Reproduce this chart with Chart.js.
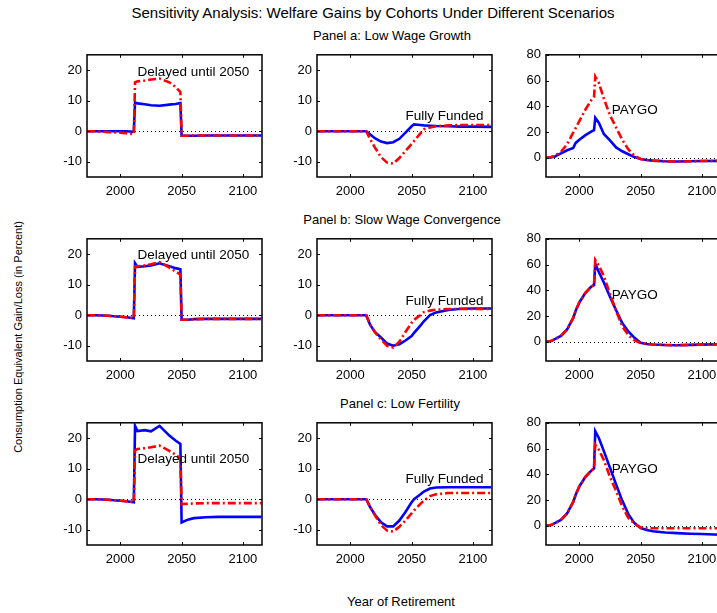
<!DOCTYPE html>
<html><head><meta charset="utf-8">
<script src="https://cdn.jsdelivr.net/npm/chart.js@4.4.1/dist/chart.umd.min.js"></script>
<style>
html,body{margin:0;padding:0;background:#fff;}
body{width:717px;height:613px;position:relative;overflow:hidden;font-family:"Liberation Sans",Arial,sans-serif;color:#000;}
canvas{position:absolute;}
.t{position:absolute;white-space:nowrap;transform:translate(-50%,-50%);line-height:1;}
</style></head><body>
<div class="t" style="left:373px;top:12px;font-size:15px">Sensitivity Analysis: Welfare Gains by Cohorts Under Different Scenarios</div>
<div class="t" id="pt0" style="left:392px;top:35px;font-size:13px"></div>
<div class="t" id="pt1" style="left:402px;top:219px;font-size:13px"></div>
<div class="t" id="pt2" style="left:400px;top:403px;font-size:13px"></div>
<div class="t" style="left:18px;top:337px;font-size:11px;transform:translate(-50%,-50%) rotate(-90deg)">Consumption Equivalent Gain/Loss (in Percent)</div>
<div class="t" style="left:401px;top:601px;font-size:13px">Year of Retirement</div>
<script>
// ---- DATA ----
const panelTitles = ["Panel a: Low Wage Growth", "Panel b: Slow Wage Convergence", "Panel c: Low Fertility"];
const schemeLabels = ["Delayed until 2050", "Fully Funded", "PAYGO"];
const xTickYears = [2000, 2050, 2100];
const yTicksSmall = [-10, 0, 10, 20];
const yTicksPaygo = [0, 20, 40, 60, 80];

// Delayed until 2050
const delayYears = [1973, 1980, 1990, 2000, 2005, 2011, 2012, 2014, 2020, 2025, 2032, 2040, 2045, 2049, 2050, 2055, 2060, 2070, 2080, 2100, 2115];
const delayBlueA = [0, 0, 0, 0, 0, -0.2, 9.4, 9.1, 8.8, 8.5, 8.3, 8.7, 8.9, 9.2, -1.5, -1.5, -1.5, -1.4, -1.4, -1.4, -1.4];
const delayRedA  = [0, 0, -0.3, -0.5, -0.7, -1, 16, 16.3, 16.6, 16.9, 17.2, 16, 14.5, 12.8, -1.5, -1.5, -1.4, -1.4, -1.4, -1.4, -1.4];
const delayBlueB = [0, 0, -0.2, -0.5, -0.7, -1, 17, 15.8, 16, 16.3, 17, 16, 15.4, 15, -1.5, -1.5, -1.3, -1.2, -1.2, -1.2, -1.2];
const delayRedB  = [0, 0, -0.2, -0.5, -0.7, -1, 16, 16, 16.3, 16.7, 17.4, 15.6, 14.3, 13.3, -1.5, -1.5, -1.3, -1.2, -1.2, -1.2, -1.2];
const delayBlueC = [0, 0, -0.2, -0.5, -0.7, -1, 24, 22.3, 22.6, 22.2, 24, 20.8, 19.2, 18.1, -7.6, -6.7, -6.2, -5.9, -5.8, -5.8, -5.8];
const delayRedC  = [0, 0, -0.2, -0.5, -0.7, -1, 16, 16.4, 16.7, 17, 17.5, 15.8, 14.6, 13.3, -1.6, -1.5, -1.4, -1.3, -1.3, -1.3, -1.3];

// Fully Funded
const ffYears   = [1973, 2000, 2013, 2016, 2020, 2025, 2030, 2035, 2040, 2045, 2050, 2052, 2057, 2060, 2065, 2070, 2080, 2090, 2100, 2115];
const ffBlueA   = [0, 0, 0, -1, -2.3, -3.4, -3.9, -3.6, -2.5, -0.5, 1.6, 2.2, 2.0, 1.9, 1.8, 1.7, 1.6, 1.5, 1.5, 1.4];
const ffRedA    = [0, 0, 0, -2.5, -5.3, -8.5, -10.3, -10.6, -8.8, -6.5, -4.2, -3.2, -0.8, 0.6, 1.2, 1.6, 1.9, 2, 2, 2];
const ffBlueB   = [0, 0, 0, -3, -5.5, -7.3, -9.3, -10, -9.5, -8.3, -6.8, -5.8, -3.5, -2, 0, 0.9, 1.7, 2.1, 2.2, 2.2];
const ffRedB    = [0, 0, 0, -3, -5.5, -8, -10, -10.6, -8.7, -5.5, -2.5, -1.5, 0, 1, 1.5, 1.8, 2, 2, 2, 2];
const ffBlueC   = [0, 0, 0, -2.5, -5, -7.6, -8.9, -8.9, -7, -4.2, -1, 0, 1.5, 2.5, 3.5, 3.8, 3.9, 3.9, 3.9, 3.9];
const ffRedC    = [0, 0, 0, -2.5, -5.2, -8.5, -10.3, -10.6, -9, -7, -4.6, -3.7, -1.6, -0.5, 1, 1.6, 2, 2, 2, 2];

// PAYGO
const pgYears = [1973, 1977, 1980, 1985, 1990, 1995, 1997, 2000, 2005, 2010, 2012, 2013, 2016, 2020, 2025, 2030, 2035, 2040, 2045, 2050, 2055, 2060, 2070, 2080, 2090, 2100, 2115];
const pgBlueA = [0, 0.3, 1, 3.3, 5.8, 7.5, 11.5, 14, 17.5, 20.5, 21.5, 31, 27, 18.5, 13.5, 8, 5, 2.7, 0.5, -1, -1.8, -2.3, -2.8, -3, -2.8, -2.6, -2.5];
const pgRedA  = [0, 0.3, 1.5, 4.6, 10.5, 19.5, 23, 28.5, 37.5, 45, 47, 63, 58, 46, 33, 23.5, 14, 6.5, 1.5, -1, -1.8, -2.3, -2.8, -3, -2.8, -2.6, -2.5];
const pgBlueB = [0, 0.5, 2, 4.5, 9.5, 18.5, 24, 30.5, 38, 43, 44, 60.5, 54, 46, 35, 24.5, 14.5, 8, 3, -0.8, -1.8, -2.2, -2.6, -2.7, -2.5, -2.3, -2];
const pgRedB  = [0, 0.5, 2, 4.5, 9.5, 18.5, 24, 30.5, 38, 43, 44, 63.5, 59, 51, 37, 24, 12, 5, 1, -1.2, -1.8, -2.2, -2.6, -2.7, -2.5, -2.3, -2];
const pgBlueC = [0, 0.5, 2, 4.5, 9.5, 18.5, 24, 30.5, 38, 43, 44.5, 73.5, 68, 58, 45, 32, 19.5, 9, 2, -1.8, -3.4, -4.3, -5.3, -5.8, -6.2, -6.5, -7];
const pgRedC  = [0, 0.5, 2, 4.5, 9.5, 18.5, 24, 30.5, 38, 43, 44.5, 63, 59, 51, 38, 27, 15, 6, 1.5, -1.3, -2, -2, -2, -2, -2, -2, -2];

// ---- LAYOUT / STYLE ----
const X_MIN = 1972.8, X_MAX = 2115.6;
const colLeft = [87, 317, 546], rowTop = [52, 236, 420];
const plotW = 175, plotH = 125, axW = 40, padT = 10, padR = 10, axH = 30;
const FONT = '"Liberation Sans", Arial, sans-serif';
const BLUE = '#0000ff', RED = '#ff0000';

// annotation anchors (data coordinates, left-middle of text)
const annotAnchor = [
  [[2014, 19.4], [2045, 4.9], [2026.5, 36.8]],
  [[2014, 19.6], [2045, 4.5], [2026.5, 36.3]],
  [[2014, 13.0], [2045, 6.5], [2026.5, 43.5]]
];

const seriesTable = [
  [[delayYears, delayBlueA, delayRedA], [ffYears, ffBlueA, ffRedA], [pgYears, pgBlueA, pgRedA]],
  [[delayYears, delayBlueB, delayRedB], [ffYears, ffBlueB, ffRedB], [pgYears, pgBlueB, pgRedB]],
  [[delayYears, delayBlueC, delayRedC], [ffYears, ffBlueC, ffRedC], [pgYears, pgBlueC, pgRedC]]
];

panelTitles.forEach((t, i) => { document.getElementById('pt' + i).textContent = t; });

const framePlugin = {
  id: 'frame',
  beforeDatasetsDraw(chart) {
    const {ctx, chartArea: a, scales: {y}} = chart;
    const y0 = Math.round(y.getPixelForValue(0)) + 0.5;
    ctx.save();
    ctx.beginPath();
    ctx.setLineDash([1, 3]);
    ctx.strokeStyle = '#000';
    ctx.lineWidth = 1;
    ctx.moveTo(a.left, y0); ctx.lineTo(a.right, y0);
    ctx.stroke();
    ctx.restore();
  },
  afterDatasetsDraw(chart, args, opts) {
    const {ctx, chartArea: a, scales: {x, y}} = chart;
    ctx.save();
    ctx.setLineDash([]);
    ctx.strokeStyle = '#000';
    ctx.lineWidth = 1.5;
    ctx.strokeRect(a.left, a.top, a.right - a.left, a.bottom - a.top);
    ctx.lineWidth = 1;
    ctx.beginPath();
    x.ticks.forEach(t => {
      const px = Math.round(x.getPixelForValue(t.value)) + 0.5;
      ctx.moveTo(px, a.bottom); ctx.lineTo(px, a.bottom - 3);
      ctx.moveTo(px, a.top); ctx.lineTo(px, a.top + 3);
    });
    y.ticks.forEach(t => {
      const py = Math.round(y.getPixelForValue(t.value)) + 0.5;
      ctx.moveTo(a.left, py); ctx.lineTo(a.left + 3, py);
      ctx.moveTo(a.right, py); ctx.lineTo(a.right - 3, py);
    });
    ctx.stroke();
    if (opts && opts.text) {
      ctx.fillStyle = '#000';
      ctx.font = '13.5px ' + FONT;
      ctx.textAlign = 'left';
      ctx.textBaseline = 'middle';
      ctx.fillText(opts.text, x.getPixelForValue(opts.at[0]), y.getPixelForValue(opts.at[1]));
    }
    ctx.restore();
  }
};

for (let r = 0; r < 3; r++) {
  for (let c = 0; c < 3; c++) {
    const [yrs, blue, red] = seriesTable[r][c];
    const cv = document.createElement('canvas');
    cv.width = axW + plotW + padR;
    cv.height = padT + plotH + axH;
    cv.style.left = (colLeft[c] - axW) + 'px';
    cv.style.top = (rowTop[r] - padT) + 'px';
    cv.style.width = cv.width + 'px';
    cv.style.height = cv.height + 'px';
    document.body.appendChild(cv);
    const isPaygo = c === 2;
    const yTicks = isPaygo ? yTicksPaygo : yTicksSmall;
    new Chart(cv, {
      type: 'line',
      data: {
        datasets: [
          { data: yrs.map((yr, i) => ({x: yr, y: red[i]})), borderColor: RED, borderWidth: 2.6,
            borderDash: [8, 3, 2, 3], borderCapStyle: 'butt', pointRadius: 0, tension: 0, fill: false, order: 0 },
          { data: yrs.map((yr, i) => ({x: yr, y: blue[i]})), borderColor: BLUE, borderWidth: 2.6,
            pointRadius: 0, tension: 0, fill: false, order: 1 }
        ]
      },
      options: {
        responsive: false, animation: false, devicePixelRatio: 1,
        layout: { padding: { top: padT, right: padR, left: 0, bottom: 0 } },
        plugins: {
          legend: { display: false }, tooltip: { enabled: false },
          frame: { text: schemeLabels[c], at: annotAnchor[r][c] }
        },
        scales: {
          x: {
            type: 'linear', min: X_MIN, max: X_MAX,
            grid: { display: false, drawTicks: false }, border: { display: false },
            ticks: { autoSkip: false, maxRotation: 0, padding: 7, color: '#000',
              font: { family: FONT, size: 13 }, callback: v => String(v) },
            afterBuildTicks: s => { s.ticks = xTickYears.map(v => ({ value: v })); },
            afterFit: s => { s.height = axH; }
          },
          y: {
            type: 'linear', min: -15, max: isPaygo ? 80 : 25,
            grid: { display: false, drawTicks: false }, border: { display: false },
            ticks: { autoSkip: false, padding: 5, color: '#000',
              font: { family: FONT, size: 13 }, callback: v => String(v) },
            afterBuildTicks: s => { s.ticks = yTicks.map(v => ({ value: v })); },
            afterFit: s => { s.width = axW; }
          }
        }
      },
      plugins: [framePlugin]
    });
  }
}
</script>
</body></html>
